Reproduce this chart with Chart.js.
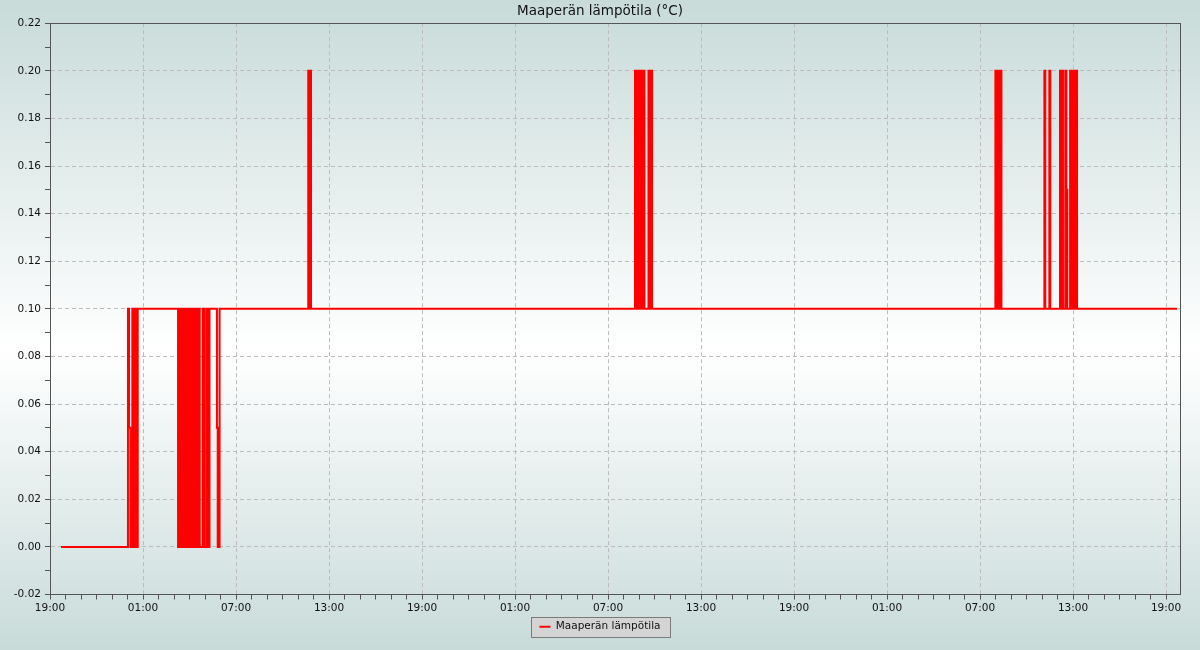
<!DOCTYPE html>
<html lang="fi">
<head>
  <meta charset="UTF-8">
  <title>Maaperän lämpötila</title>
  <script src="https://cdn.jsdelivr.net/npm/chart.js"></script>
  <style>
    body { margin: 0; background: #c9dcda; }
    #wrap { width: 1200px; height: 650px; }
  </style>
</head>
<body>
  <div id="wrap"><canvas id="graafi" width="1200" height="650"></canvas></div>

  <script>
    // tunnit klo 19:00 alkaen, arvo pysyy voimassa seuraavaan pisteeseen asti
    const ajat = [
      0.71, 5.03, 5.10, 5.19, 5.31, 5.40, 5.49, 5.58, 5.66,
      8.26, 8.33, 8.39, 8.46, 8.52, 8.59, 8.65, 8.72, 8.78, 8.85, 8.91, 8.98, 9.04, 9.11, 9.17, 9.24, 9.30, 9.37, 9.43, 9.50, 9.56, 9.62, 9.66,
      9.85, 9.94, 10.08, 10.17, 10.29, 10.77, 10.82, 10.94,
      16.66, 16.72, 16.77, 16.84,
      37.74, 37.81, 37.88, 37.94, 38.01, 38.08, 38.15, 38.21, 38.28, 38.35,
      38.61, 38.67, 38.73, 38.80, 38.84,
      60.99, 61.06, 61.12, 61.19, 61.25, 61.30, 61.38,
      64.15, 64.21, 64.47, 64.53,
      65.16, 65.23, 65.29, 65.35,
      65.50, 65.57, 65.63,
      65.81, 65.87, 65.94, 66.00, 66.07, 66.13, 66.20, 66.26,
      72.71
    ];
    const lampotilat = [
      0, 0.1, 0.05, 0, 0.1, 0, 0.1, 0, 0.1,
      0, 0.1, 0, 0.1, 0, 0.1, 0, 0.1, 0, 0.1, 0, 0.1, 0, 0.1, 0, 0.1, 0, 0.1, 0, 0.1, 0, 0.1, 0,
      0.1, 0, 0.1, 0, 0.1, 0.05, 0, 0.1,
      0.2, 0.1, 0.2, 0.1,
      0.2, 0.1, 0.2, 0.1, 0.2, 0.1, 0.2, 0.1, 0.2, 0.1,
      0.2, 0.1, 0.2, 0.2, 0.1,
      0.2, 0.1, 0.2, 0.15, 0.1, 0.2, 0.1,
      0.2, 0.1, 0.2, 0.1,
      0.2, 0.1, 0.2, 0.1,
      0.2, 0.15, 0.1,
      0.2, 0.1, 0.2, 0.1, 0.2, 0.1, 0.2, 0.1,
      0.1
    ];
    const alkuTunti = 19;
    const xMax = 72.9;
    const yMin = -0.02, yMax = 0.22;

    Chart.defaults.font.family = '"DejaVu Sans", sans-serif';
    Chart.defaults.color = '#111';

    const tausta = {
      id: 'tausta',
      beforeDraw(chart) {
        const ctx = chart.ctx;
        const g = ctx.createLinearGradient(0, 0, 0, chart.height);
        g.addColorStop(0, '#c8dbd9');
        g.addColorStop(0.54, '#ffffff');
        g.addColorStop(1, '#c8dbd9');
        ctx.save();
        ctx.fillStyle = g;
        ctx.fillRect(0, 0, chart.width, chart.height);

        // selitteen laatikko
        const lg = chart.legend;
        if (lg) {
          ctx.font = '10.5px "DejaVu Sans"';
          const tw = ctx.measureText(chart.data.datasets[0].label).width;
          const w = Math.round(11 + 5 + tw + 18);
          const cx = (lg.left + lg.right) / 2;
          const cy = lg.top + 10 + 5;
          const x0 = Math.round(cx - w / 2) + 0.5, y0 = Math.round(cy - 10) + 0.5;
          ctx.fillStyle = '#d4d4d4';
          ctx.strokeStyle = '#7a7a7a';
          ctx.lineWidth = 1;
          ctx.fillRect(x0, y0, w, 20);
          ctx.strokeRect(x0, y0, w, 20);
        }
        ctx.restore();
      },
      beforeDatasetsDraw(chart) {
        const a = chart.chartArea;
        const ctx = chart.ctx;
        ctx.save();
        ctx.strokeStyle = '#555';
        ctx.lineWidth = 1;
        ctx.strokeRect(Math.round(a.left) + 0.5, Math.round(a.top) + 0.5, Math.round(a.right - a.left), Math.round(a.bottom - a.top));
        ctx.restore();
      }
    };

    new Chart(document.getElementById('graafi'), {
      type: 'line',
      data: {
        datasets: [{
          label: 'Maaperän lämpötila',
          data: ajat.map((t, i) => ({ x: t, y: lampotilat[i] })),
          borderColor: '#ff0000',
          backgroundColor: '#ff0000',
          borderWidth: 2,
          stepped: true,
          pointRadius: 0,
          fill: false
        }]
      },
      options: {
        responsive: false,
        animation: false,
        layout: { padding: { left: 0, right: 0, top: 0, bottom: 8 } },
        plugins: {
          title: {
            display: true,
            text: 'Maaperän lämpötila (°C)',
            font: { size: 13.5, weight: 'normal' },
            color: '#111',
            padding: { top: 3, bottom: 4 }
          },
          legend: {
            position: 'bottom',
            labels: {
              boxWidth: 11,
              boxHeight: 2,
              padding: 10,
              font: { size: 10.5 },
              color: '#111',
              generateLabels(chart) {
                return Chart.defaults.plugins.legend.labels.generateLabels(chart)
                  .map(l => Object.assign(l, { lineWidth: 0, fillStyle: '#ff0000' }));
              }
            }
          },
          tooltip: { enabled: false }
        },
        scales: {
          x: {
            type: 'linear',
            min: 0,
            max: xMax,
            afterFit(s) { s.height = 17; },
            border: { color: '#555', dash: [4, 3] },
            grid: {
              color: c => (c.tick && Math.round(c.tick.value) % 6 === 0) ? '#bcbcbc' : 'transparent',
              tickColor: '#555',
              tickLength: 5
            },
            ticks: {
              stepSize: 1,
              autoSkip: false,
              includeBounds: false,
              maxRotation: 0,
              padding: 2,
              color: '#111',
              font: { size: 10.5 },
              callback(v) {
                const t = Math.round(v);
                if (t % 6 !== 0) return '';
                const h = (alkuTunti + t) % 24;
                return String(h).padStart(2, '0') + ':00';
              }
            }
          },
          y: {
            min: yMin,
            max: yMax,
            afterFit(s) { s.width = 50; },
            border: { color: '#555', dash: [4, 3] },
            grid: {
              color: c => (c.tick && Math.round(c.tick.value * 100) % 2 === 0) ? '#bcbcbc' : 'transparent',
              tickColor: '#555',
              tickLength: 5
            },
            ticks: {
              stepSize: 0.01,
              autoSkip: false,
              includeBounds: false,
              padding: 4,
              color: '#111',
              font: { size: 10.5 },
              callback(v) {
                return Math.round(v * 100) % 2 === 0 ? v.toFixed(2) : '';
              }
            }
          },
          // tyhjä oikea akseli pitää marginaalin, jotta otsikko ja selite keskittyvät
          oikea: {
            position: 'right',
            min: 0,
            max: 1,
            afterFit(s) { s.width = 20; },
            grid: { display: false },
            border: { display: false },
            ticks: { display: false }
          }
        }
      },
      plugins: [tausta]
    });
  </script>
</body>
</html>
